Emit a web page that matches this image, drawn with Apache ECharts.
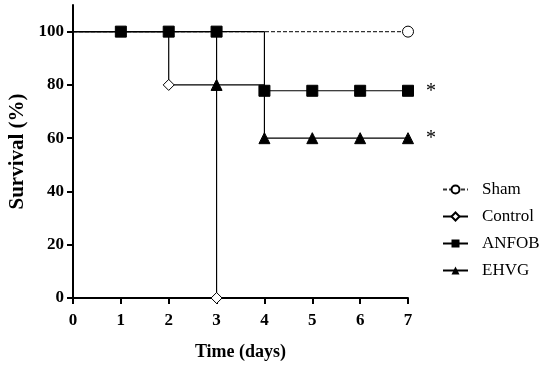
<!DOCTYPE html>
<html><head><meta charset="utf-8">
<script src="https://cdn.jsdelivr.net/npm/echarts@6/dist/echarts.min.js"></script>
<style>html,body{margin:0;padding:0;background:#fff}#c{width:550px;height:365px}</style>
</head><body><div id="c"></div>
<script>
const days = [0,1,2,3,4,5,6,7];
const shamVals = [100,100,100,100,100,100,100,100];
const controlVals = [100,100,80,0];
const anfobVals = [100,100,100,100,77.8,77.8,77.8,77.8];
const ehvgVals = [100,100,100,80,60,60,60,60];
const yTicks = [0,20,40,60,80,100];
const seriesNames = ['Sham','Control','ANFOB','EHVG'];

const FONT = '"Liberation Serif","Times New Roman",serif';
function pts(vals, markerIdx, starIdx){
  return vals.map((v,i)=>{
    const o = {value:[days[i], v]};
    if (!markerIdx.includes(i)) o.symbol = 'none';
    if (starIdx === i) o.label = {show:true, position:'right', distance:12, formatter:'*', fontSize:20, color:'#000', fontFamily:FONT, offset:[0,1]};
    return o;
  });
}
const chart = echarts.init(document.getElementById('c'));
chart.setOption({
  animation:false,
  backgroundColor:'#fff',
  grid:{left:73, right:142, top:5, bottom:67, containLabel:false, outerBoundsMode:'none'},
  xAxis:{type:'value', min:0, max:7, interval:1,
    name:'Time (days)', nameLocation:'middle', nameGap:45,
    nameTextStyle:{fontFamily:FONT, fontWeight:'bold', fontSize:18, color:'#000'},
    axisLine:{lineStyle:{color:'#000', width:2}},
    axisTick:{length:6, lineStyle:{color:'#000', width:2}},
    axisLabel:{fontFamily:FONT, fontWeight:'bold', fontSize:17, color:'#000', margin:14},
    splitLine:{show:false}},
  yAxis:{type:'value', min:0, max:110, interval:20,
    name:'Survival (%)', nameLocation:'middle', nameGap:44, nameRotate:90,
    nameTextStyle:{fontFamily:FONT, fontWeight:'bold', fontSize:21, color:'#000'},
    axisLine:{show:true, lineStyle:{color:'#000', width:2}},
    axisTick:{show:true, length:6, customValues:yTicks, lineStyle:{color:'#000', width:2}},
    axisLabel:{fontFamily:FONT, fontWeight:'bold', fontSize:17, color:'#000', margin:9, customValues:yTicks},
    splitLine:{show:false}},
  legend:{orient:'vertical', left:437, top:176, itemWidth:25, itemHeight:10, itemGap:10,
    data:seriesNames,
    textStyle:{fontFamily:FONT, fontSize:17, color:'#000', padding:[0,0,0,9]}},
  series:[
    {name:'Sham', type:'line', step:'end', data:pts(shamVals,[7]), symbol:'circle', symbolSize:11,
      itemStyle:{color:'#fff', borderColor:'#000', borderWidth:1},
      lineStyle:{color:'#333', width:1.2, type:[4,2]}, z:2},
    {name:'Control', type:'line', step:'end', data:pts(controlVals,[2,3]), symbol:'diamond', symbolSize:11,
      itemStyle:{color:'#fff', borderColor:'#000', borderWidth:1},
      lineStyle:{color:'#000', width:1.2}, z:3},
    {name:'EHVG', type:'line', step:'end', data:pts(ehvgVals,[3,4,5,6,7],7), symbol:'triangle', symbolSize:11,
      itemStyle:{color:'#000', borderColor:'#000'},
      lineStyle:{color:'#000', width:1.2}, z:4},
    {name:'ANFOB', type:'line', step:'end', data:pts(anfobVals,[1,2,3,4,5,6,7],7), symbol:'rect', symbolSize:11,
      itemStyle:{color:'#000', borderColor:'#000'},
      lineStyle:{color:'#000', width:1.2}, z:5}
  ]
});
</script></body></html>
